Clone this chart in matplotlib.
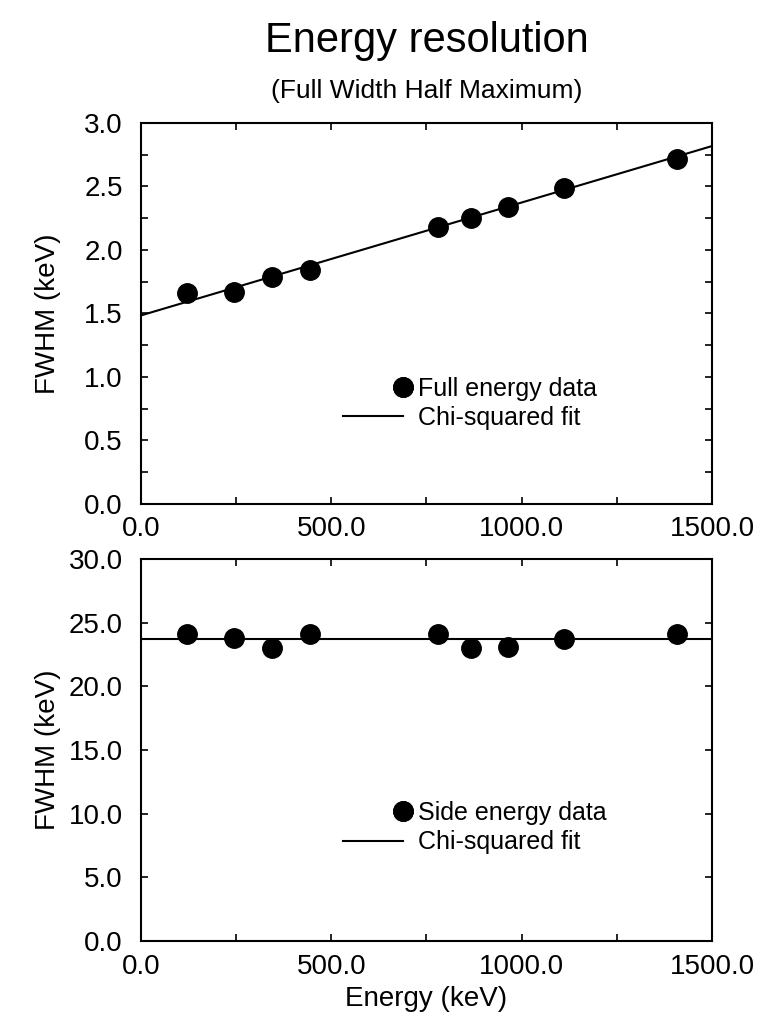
import numpy as np
import matplotlib.pyplot as plt
from matplotlib.legend_handler import HandlerLine2D
from matplotlib.ticker import MultipleLocator, FormatStrFormatter

plt.rcParams['font.family'] = ['Liberation Sans', 'DejaVu Sans']

# Eu-152 gamma lines (keV)
energy = [121.8, 244.7, 344.3, 443.9, 778.9, 867.4, 964.1, 1112.1, 1408.0]
fwhm_full = [1.66, 1.67, 1.79, 1.84, 2.18, 2.25, 2.34, 2.49, 2.72]
fwhm_side = [24.1, 23.8, 23.0, 24.1, 24.1, 23.0, 23.1, 23.7, 24.1]

# chi-squared fit: fwhm = a + b * E
fit_full = (1.485, 8.89e-4)
fit_side = (23.7, 0.0)

x_range = (0.0, 1500.0)


class HandlerDotRight(HandlerLine2D):
    '''legend entry with the marker at the right end of the handle'''
    def get_xdata(self, legend, xdescent, ydescent, width, height, fontsize):
        xe = -xdescent + width
        return np.array([xe, xe]), np.array([xe, xe])


def draw_panel(ax, y, fit, ylim, ymajor, yminor, data_label, leg_anchor):
    e = np.linspace(x_range[0], x_range[1], 2)
    dots, = ax.plot(energy, y, 'o', color='black', ms=14, label=data_label)
    line, = ax.plot(e, fit[0] + fit[1] * e, '-', color='black', lw=1.5,
                    label='Chi-squared fit')

    ax.set_xlim(x_range)
    ax.set_ylim(ylim)
    ax.xaxis.set_major_locator(MultipleLocator(500))
    ax.xaxis.set_minor_locator(MultipleLocator(250))
    ax.yaxis.set_major_locator(MultipleLocator(ymajor))
    if yminor:
        ax.yaxis.set_minor_locator(MultipleLocator(yminor))
    ax.xaxis.set_major_formatter(FormatStrFormatter('%.1f'))
    ax.yaxis.set_major_formatter(FormatStrFormatter('%.1f'))

    ax.tick_params(which='both', direction='in', top=True, right=True,
                   length=5, width=1.2, labelsize=20)
    ax.tick_params(axis='y', pad=13)
    ax.tick_params(axis='x', pad=9)
    for s in ax.spines.values():
        s.set_linewidth(1.5)

    ax.legend(handles=[dots, line], loc='upper left', bbox_to_anchor=leg_anchor,
              frameon=False, fontsize=18, borderpad=0, borderaxespad=0,
              handlelength=2.4, handletextpad=0.6, labelspacing=0.22,
              handler_map={dots: HandlerDotRight(numpoints=2)})


fig = plt.figure(figsize=(7.57, 10.22), dpi=100)
ax1 = fig.add_axes([141/757, 1-504/1022, 571/757, 381/1022])
ax2 = fig.add_axes([141/757, 1-941/1022, 571/757, 382/1022])

draw_panel(ax1, fwhm_full, fit_full, (0, 3.0), 0.5, 0.25, 'Full energy data', (0.354, 0.334))
draw_panel(ax2, fwhm_side, fit_side, (0, 30.0), 5.0, None, 'Side energy data', (0.354, 0.367))

ax1.set_ylabel('FWHM (keV)', fontsize=20)
ax2.set_ylabel('FWHM (keV)', fontsize=20)
ax1.yaxis.set_label_coords(-0.14, 0.5)
ax2.yaxis.set_label_coords(-0.14, 0.5)
ax2.set_xlabel('Energy (keV)', fontsize=20, labelpad=5)

fig.text(0.564, 1-41/1022, 'Energy resolution', fontsize=30, ha='center', va='center')
fig.text(0.564, 1-91/1022, '(Full Width Half Maximum)', fontsize=19, ha='center', va='center')

fig.savefig('out.png', dpi=100)
plt.close()
